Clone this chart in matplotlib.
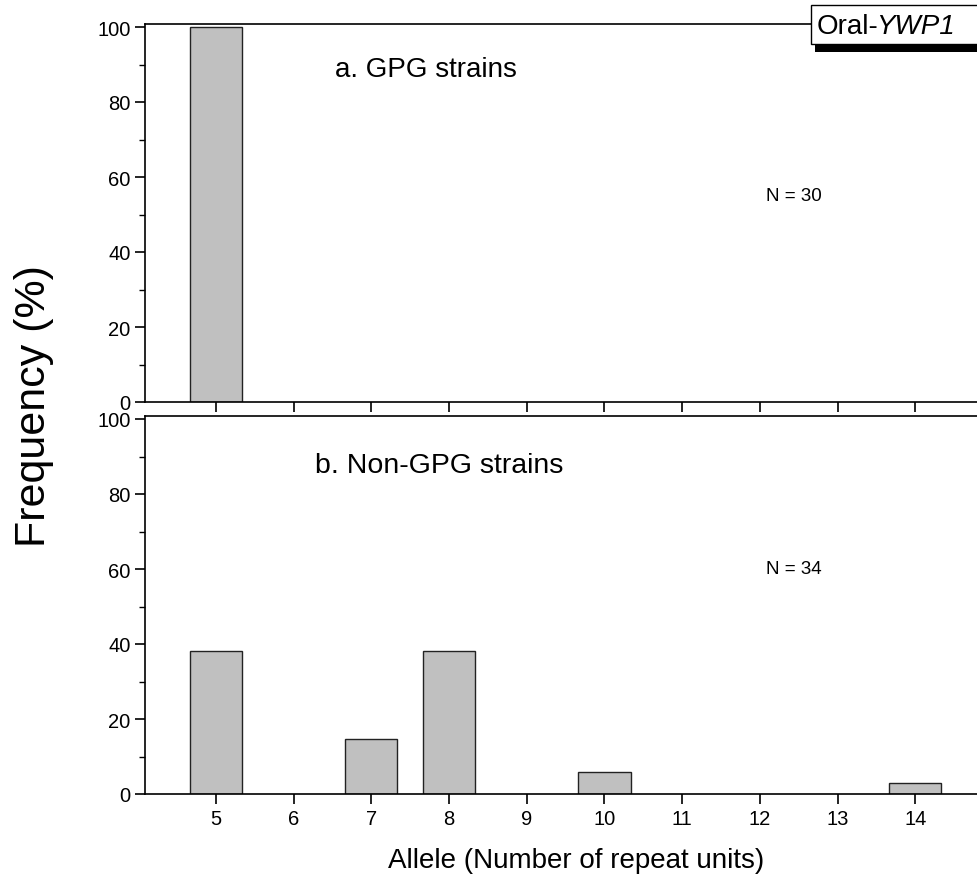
import numpy as np
import matplotlib.pyplot as plt
from matplotlib.patches import Rectangle
from matplotlib.ticker import MultipleLocator

plt.rcParams['font.family'] = ['Liberation Sans', 'DejaVu Sans']

# allele sizes (repeat units) and frequencies (%)
alleles_a = [5]
freq_a = [100.0]
alleles_b = [5, 7, 8, 10, 14]
freq_b = [38.2, 14.7, 38.2, 5.9, 2.9]
xticks = list(range(5, 15))

W, H = 978, 878
fig = plt.figure(figsize=(W / 100, H / 100), dpi=100)

def fx(px):
    return px / W

def fy(py):
    return 1 - py / H

left = fx(145)
width = fx(993) - left
ax1 = fig.add_axes([left, fy(403), width, fy(25) - fy(403)])
ax2 = fig.add_axes([left, fy(795), width, fy(417) - fy(795)])

for ax, xs, ys in [(ax1, alleles_a, freq_a), (ax2, alleles_b, freq_b)]:
    ax.bar(xs, ys, width=0.67, color='#c0c0c0', edgecolor='#222222', linewidth=1.0)
    ax.set_xlim(4.087, 15)
    ax.set_ylim(0, 100.8)
    ax.set_xticks(xticks)
    ax.yaxis.set_major_locator(MultipleLocator(20))
    ax.yaxis.set_minor_locator(MultipleLocator(10))
    ax.tick_params(axis='both', which='major', direction='out', length=7, width=1.2,
                   labelsize=14.5)
    ax.tick_params(axis='y', which='minor', direction='out', length=4, width=1.0)
    for s in ax.spines.values():
        s.set_linewidth(1.2)

ax1.tick_params(axis='x', labelbottom=False)

# panel annotations, positioned in pixels from the top-left
fig.text(fx(335), fy(70), 'a. GPG strains', fontsize=20, va='center')
fig.text(fx(766), fy(197), 'N = 30', fontsize=13.5, va='center')
fig.text(fx(315), fy(466), 'b. Non-GPG strains', fontsize=20.5, va='center')
fig.text(fx(766), fy(570), 'N = 34', fontsize=13.5, va='center')

fig.text(fx(576), fy(861), 'Allele (Number of repeat units)', fontsize=20,
         ha='center', va='center')
fig.text(fx(34), fy(406), 'Frequency (%)', rotation=90, fontsize=31,
         ha='center', va='center')

# label box with drop shadow
fig.add_artist(Rectangle((fx(815), fy(53)), fx(990) - fx(815), fy(45) - fy(53),
                         transform=fig.transFigure, facecolor='black',
                         edgecolor='none', zorder=5))
fig.add_artist(Rectangle((fx(811), fy(45)), fx(990) - fx(811), fy(6) - fy(45),
                         transform=fig.transFigure, facecolor='white',
                         edgecolor='black', linewidth=1.0, zorder=6))
t1 = fig.text(fx(817), fy(27), 'Oral-', fontsize=20, va='center', zorder=7)
fig.canvas.draw()
bb = t1.get_window_extent()
fig.text((bb.x1 - 3) / W, fy(27), 'YWP1', fontsize=20, style='italic', va='center', zorder=7)

fig.savefig('out.png', dpi=100)
